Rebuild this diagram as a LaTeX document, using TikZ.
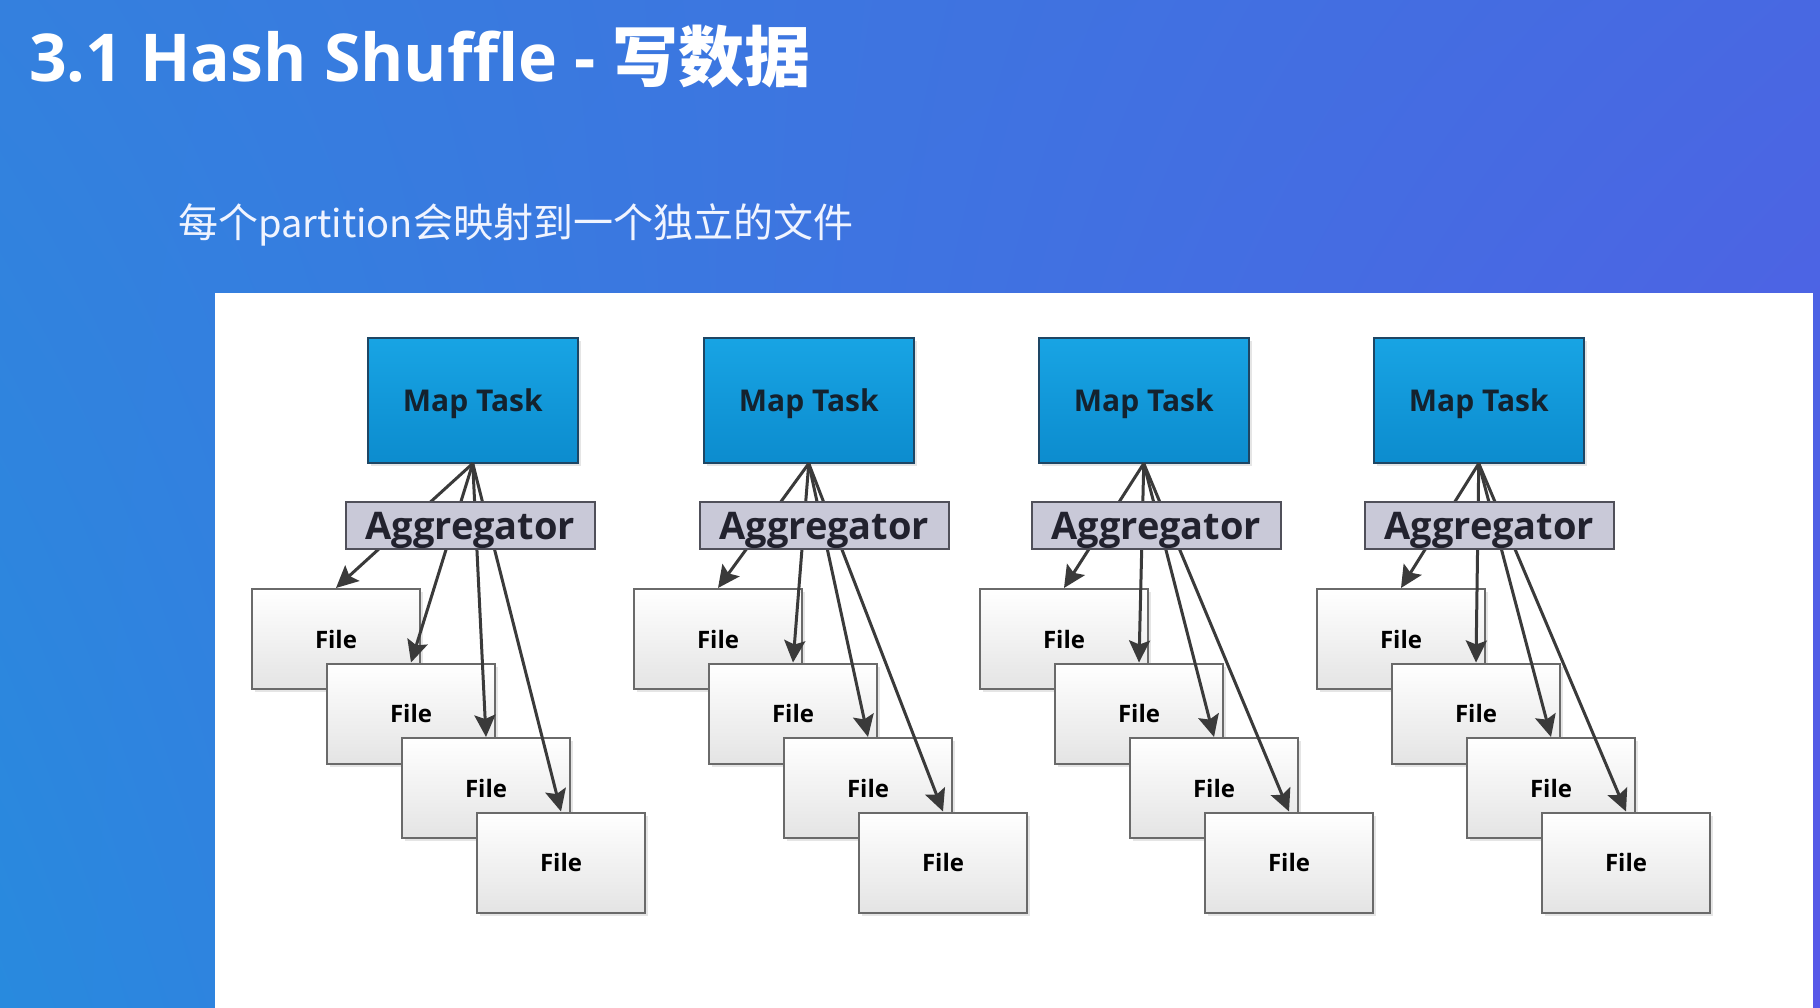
\documentclass[tikz,border=0pt]{standalone}
\usepackage{fontspec}
\usetikzlibrary{arrows.meta,calc,shadows,shadings}
\newfontfamily\osans{Open Sans}
\newfontfamily\cjk{Noto Sans CJK SC}
\definecolor{bgUL}{RGB}{52,128,222}
\definecolor{bgLL}{RGB}{40,138,222}
\definecolor{bgUR}{RGB}{72,104,226}
\definecolor{bgLR}{RGB}{88,88,232}
\definecolor{mapTop}{RGB}{24,164,228}
\definecolor{mapBot}{RGB}{12,140,206}
\definecolor{mapLine}{RGB}{30,70,100}
\definecolor{mapText}{RGB}{20,34,46}
\definecolor{aggFill}{RGB}{201,201,216}
\definecolor{aggLine}{RGB}{80,80,90}
\definecolor{aggText}{RGB}{34,34,46}
\definecolor{fileLine}{RGB}{106,106,106}
\definecolor{fileBot}{RGB}{228,228,228}
\definecolor{arrowGray}{RGB}{58,58,58}
\definecolor{subText}{RGB}{240,244,255}
\begin{document}
\begin{tikzpicture}[x=1pt,y=-1pt,
  mapbox/.style={draw=mapLine, line width=1.5pt, top color=mapTop, bottom color=mapBot,
    minimum width=210pt, minimum height=125pt, inner sep=0pt, text depth=0pt,
    font=\osans\bfseries\fontsize{30}{30}\selectfont, text=mapText,
    drop shadow={opacity=0.2, shadow xshift=3pt, shadow yshift=-3pt}},
  filebox/.style={draw=fileLine, line width=2pt, top color=white, bottom color=fileBot,
    minimum width=168pt, minimum height=100pt, inner sep=0pt, text depth=0pt,
    font=\osans\bfseries\fontsize{24}{24}\selectfont, text=black,
    drop shadow={opacity=0.2, shadow xshift=3pt, shadow yshift=-3pt}},
  aggbox/.style={draw=aggLine, line width=1.5pt, fill=aggFill,
    minimum width=249pt, minimum height=47pt, inner sep=0pt},
  aggtext/.style={inner sep=0pt, font=\osans\bfseries\fontsize{38}{38}\selectfont, text=aggText},
  arr/.style={draw=arrowGray, line width=3pt, -{Stealth[length=22pt,width=21pt,inset=4pt]}},
  titletext/.style={inner sep=0pt, text=white},
]
\useasboundingbox (0,0) rectangle (1820,1008);
\shade[upper left=bgUL, lower left=bgLL, upper right=bgUR, lower right=bgLR] (0,0) rectangle (1820,1008);
\fill[white] (215,293) rectangle (1813,1008);

\node[titletext, anchor=base west] (title) at (29,82)
  {\osans\bfseries\fontsize{66}{66}\selectfont 3.1 Hash Shuffle - {\cjk\bfseries 写数据}};
\node[titletext, anchor=base west, text=subText] (subtitle) at (178,238)
  {\cjk\fontsize{40}{40}\selectfont 每个{\fontsize{38}{38}\selectfont partition}会映射到一个独立的文件};

\foreach \g/\M/\A/\F in {1/367/345/251, 2/703/699/633, 3/1038/1031/979, 4/1373/1364/1316} {
  \node[mapbox, anchor=north west] (map\g) at (\M,337) {Map Task};
  \foreach \i in {1,...,4} {
    \node[filebox, anchor=north west] (f\g-\i) at ({\F+75*(\i-1)},{588+74.5*(\i-1)}) {File};
  }
  \foreach \i in {1,...,4} {
    \draw[arr] (map\g.south) -- (f\g-\i.north);
  }
  \node[aggbox, anchor=north west] (agg\g) at (\A,501) {};
  \node[aggtext, anchor=base] (aggt\g) at ($(agg\g.south)+(0,-10)$) {Aggregator};
}
\end{tikzpicture}
\end{document}
